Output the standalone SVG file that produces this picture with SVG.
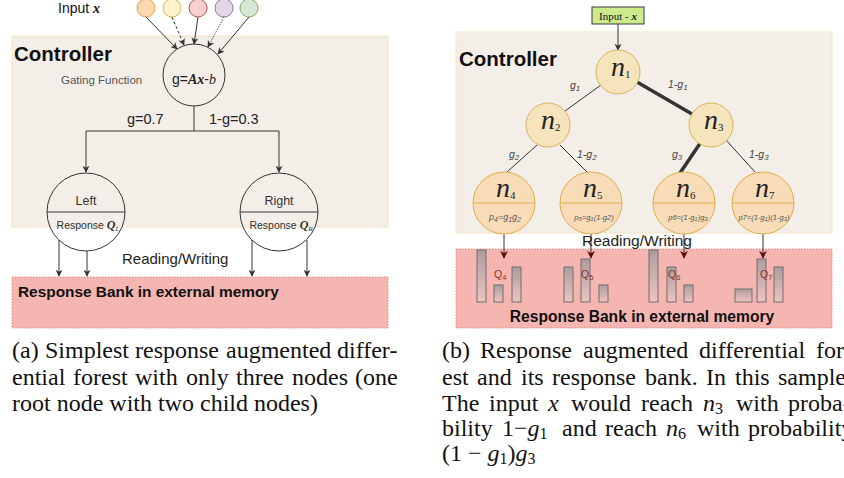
<svg xmlns="http://www.w3.org/2000/svg" width="844" height="478" viewBox="0 0 844 478">
<style>
.sans{font-family:"Liberation Sans",Arial,sans-serif}
.serif{font-family:"Liberation Serif","Times New Roman",serif}
.ln{stroke:#333;stroke-width:1;fill:none}
.ctrl{fill:#f4eee8;stroke:#f5e4c8;stroke-width:1}
.bank{fill:#f5b6b1;stroke:#e08a86;stroke-width:1;stroke-dasharray:1.5 1.5}
.tn{fill:#f6e4bd;stroke:#d9b35a;stroke-width:1}
.ln4{fill:#f8dcb8;stroke:#e0ae48;stroke-width:1}
.bar{fill:url(#bg);stroke:#6e6e6e;stroke-width:1}
.cap{font-family:"Liberation Serif","Times New Roman",serif;font-size:24px;fill:#111}
.mi{font-style:italic}
.q{font-family:"Liberation Sans",Arial,sans-serif;font-size:10.5px;fill:#8a3030}
.el{font-family:"Liberation Sans",Arial,sans-serif;font-size:10.5px;font-style:italic;fill:#444}
.pl{font-family:"Liberation Sans",Arial,sans-serif;font-style:italic;fill:#555}
</style>
<defs>
<marker id="ar" viewBox="0 0 10 10" refX="9" refY="5" markerWidth="7" markerHeight="7" orient="auto" markerUnits="userSpaceOnUse">
<path d="M0,0 L10,5 L0,10 L3,5 Z" fill="#333"/>
</marker>
<marker id="arr" viewBox="0 0 10 10" refX="9" refY="5" markerWidth="8" markerHeight="8" orient="auto" markerUnits="userSpaceOnUse">
<path d="M0,0 L10,5 L0,10 L3,5 Z" fill="#5e0b0b"/>
</marker>
<linearGradient id="bg" x1="0" y1="0" x2="0" y2="1">
<stop offset="0" stop-color="#ad9d9d"/>
<stop offset="1" stop-color="#eec3c3"/>
</linearGradient>
</defs>

<!-- ============ LEFT PANEL ============ -->
<g id="left-controller">
<rect class="ctrl" x="12" y="36" width="376" height="191"/>
<text class="sans" x="14" y="61" font-size="20.5" font-weight="bold" fill="#111">Controller</text>
</g>
<g id="left-bank">
<rect class="bank" x="12" y="277" width="376" height="51"/>
<text class="sans" x="18" y="297" font-size="15.4" font-weight="bold" fill="#111">Response Bank in external memory</text>
</g>
<g id="input-label">
<text class="sans" x="58" y="13" font-size="14" fill="#111">Input <tspan class="serif" font-style="italic" font-weight="bold">x</tspan></text>
</g>
<g id="inputs">
<circle cx="146" cy="8" r="9" fill="#fad7ac" stroke="#dfa24a"/>
<circle cx="172" cy="8" r="9" fill="#fff2cc" stroke="#d6b656"/>
<circle cx="198" cy="8" r="9" fill="#f8cecc" stroke="#b85450"/>
<circle cx="224" cy="8" r="9" fill="#e1d5e7" stroke="#9673a6"/>
<circle cx="249" cy="8" r="9" fill="#d5e8d4" stroke="#82b366"/>
</g>
<g id="gating">
<circle class="ln" cx="194" cy="75" r="31"/>
<text x="194" y="84" font-size="14" text-anchor="middle" class="sans" fill="#222">g=<tspan class="serif" font-style="italic" font-weight="bold">Ax</tspan>-<tspan class="serif" font-style="italic">b</tspan></text>
<text class="sans" x="61" y="84" font-size="11.5" fill="#555">Gating Function</text>
</g>
<g id="left-node">
<circle class="ln" cx="86" cy="212" r="39"/>
<line class="ln" x1="47" y1="212" x2="125" y2="212"/>
<text class="sans" x="86" y="205" font-size="12.5" text-anchor="middle" fill="#333">Left</text>
<text class="sans" x="88" y="229" font-size="10.5" text-anchor="middle" fill="#333">Response <tspan class="serif" font-style="italic" font-weight="bold" font-size="12">Q</tspan><tspan class="serif" font-style="italic" font-size="7" dy="2">L</tspan></text>
</g>
<g id="right-node">
<circle class="ln" cx="279" cy="212" r="39"/>
<line class="ln" x1="240" y1="212" x2="318" y2="212"/>
<text class="sans" x="279" y="205" font-size="12.5" text-anchor="middle" fill="#333">Right</text>
<text class="sans" x="281" y="229" font-size="10.5" text-anchor="middle" fill="#333">Response <tspan class="serif" font-style="italic" font-weight="bold" font-size="12">Q</tspan><tspan class="serif" font-style="italic" font-size="7" dy="2">R</tspan></text>
</g>
<g id="left-connectors">
<line class="ln" x1="146" y1="17" x2="177" y2="49" marker-end="url(#ar)"/>
<line class="ln" x1="172" y1="17" x2="184" y2="45" stroke-dasharray="3 2" marker-end="url(#ar)"/>
<line class="ln" x1="198" y1="17" x2="194" y2="44" marker-end="url(#ar)"/>
<line class="ln" x1="224" y1="17" x2="208" y2="47" stroke-dasharray="1.2 1.5" stroke="#777" marker-end="url(#ar)"/>
<line class="ln" x1="249" y1="17" x2="218" y2="54" marker-end="url(#ar)"/>
<polyline class="ln" points="194,106 194,131"/>
<polyline class="ln" points="86,131 279,131"/>
<line class="ln" x1="86" y1="131" x2="86" y2="172" marker-end="url(#ar)"/>
<line class="ln" x1="279" y1="131" x2="279" y2="172" marker-end="url(#ar)"/>
<line class="ln" x1="59" y1="240" x2="59" y2="276" marker-end="url(#ar)"/>
<line class="ln" x1="87" y1="251" x2="87" y2="276" marker-end="url(#ar)"/>
<line class="ln" x1="252" y1="240" x2="252" y2="276" marker-end="url(#ar)"/>
<line class="ln" x1="307" y1="240" x2="307" y2="276" marker-end="url(#ar)"/>
<text class="sans" x="127" y="124" font-size="14.5" fill="#222">g=0.7</text>
<text class="sans" x="209" y="124" font-size="14.5" fill="#222">1-g=0.3</text>
<text class="sans" x="122" y="264" font-size="15" fill="#222">Reading/Writing</text>
</g>

<!-- ============ RIGHT PANEL ============ -->
<g id="right-controller">
<rect class="ctrl" x="456" y="32" width="376" height="201"/>
<text class="sans" x="459" y="66" font-size="20.5" font-weight="bold" fill="#111">Controller</text>
</g>
<g id="right-bank">
<rect class="bank" x="456" y="249" width="376" height="79"/>
<rect class="bar" x="477" y="250" width="9" height="52"/>
<rect class="bar" x="494" y="285" width="9" height="17"/>
<rect class="bar" x="512" y="267" width="9" height="35"/>
<rect class="bar" x="564" y="267" width="9" height="35"/>
<rect class="bar" x="581" y="259" width="9" height="43"/>
<rect class="bar" x="599" y="285" width="9" height="17"/>
<rect class="bar" x="649" y="250" width="9" height="52"/>
<rect class="bar" x="667" y="267" width="9" height="35"/>
<rect class="bar" x="684" y="285" width="9" height="17"/>
<rect class="bar" x="735" y="289" width="17" height="13"/>
<rect class="bar" x="757" y="259" width="9" height="43"/>
<rect class="bar" x="774" y="267" width="9" height="35"/>
<text class="q" x="494" y="278">Q<tspan font-size="7.5" dy="2">4</tspan></text>
<text class="q" x="581" y="278">Q<tspan font-size="7.5" dy="2">5</tspan></text>
<text class="q" x="668" y="278">Q<tspan font-size="7.5" dy="2">6</tspan></text>
<text class="q" x="760" y="278">Q<tspan font-size="7.5" dy="2">7</tspan></text>
<text class="sans" x="642" y="322" font-size="15.6" font-weight="bold" fill="#111" text-anchor="middle">Response Bank in external memory</text>
</g>
<g id="input-box">
<rect x="592" y="7" width="52" height="17" fill="#cdeb8b" stroke="#36393d" stroke-width="1"/>
<text class="serif" x="618" y="20" font-size="11" text-anchor="middle" fill="#111">Input - <tspan font-style="italic" font-weight="bold">x</tspan></text>
</g>
<g id="right-connectors">
<line class="ln" x1="618" y1="24" x2="618" y2="50" marker-end="url(#ar)"/>
<line class="ln" x1="601" y1="85" x2="565" y2="111"/>
<line x1="637" y1="82" x2="692" y2="114" stroke="#333" stroke-width="3.5"/>
<line class="ln" x1="537" y1="145" x2="507" y2="172"/>
<line class="ln" x1="560" y1="145" x2="588" y2="173"/>
<line x1="701" y1="142" x2="680" y2="173" stroke="#333" stroke-width="3.5"/>
<line class="ln" x1="726" y1="140" x2="755" y2="172"/>
<line class="ln" x1="504" y1="234" x2="504" y2="258" marker-end="url(#arr)"/>
<line class="ln" x1="591" y1="234" x2="591" y2="258" marker-end="url(#arr)"/>
<line class="ln" x1="684" y1="234" x2="684" y2="258" marker-end="url(#arr)"/>
<line class="ln" x1="763" y1="234" x2="763" y2="258" marker-end="url(#arr)"/>
<text class="el" x="570" y="89">g<tspan font-size="8" dy="2">1</tspan></text>
<text class="el" x="668" y="88">1-g<tspan font-size="8" dy="2">1</tspan></text>
<text class="el" x="509" y="158">g<tspan font-size="8" dy="2">2</tspan></text>
<text class="el" x="577" y="158">1-g<tspan font-size="8" dy="2">2</tspan></text>
<text class="el" x="672" y="158">g<tspan font-size="8" dy="2">3</tspan></text>
<text class="el" x="749" y="158">1-g<tspan font-size="8" dy="2">3</tspan></text>
<text class="sans" x="582" y="246" font-size="15.5" fill="#222">Reading/Writing</text>
</g>
<g id="n1">
<circle class="tn" cx="618" cy="72" r="22"/>
<text class="serif" x="611" y="76" font-size="28" font-style="italic" fill="#222">n<tspan font-size="11" font-style="normal" dy="2">1</tspan></text>
</g>
<g id="n2">
<circle class="tn" cx="548" cy="125" r="22"/>
<text class="serif" x="541" y="129" font-size="28" font-style="italic" fill="#222">n<tspan font-size="11" font-style="normal" dy="2">2</tspan></text>
</g>
<g id="n3">
<circle class="tn" cx="711" cy="125" r="22"/>
<text class="serif" x="704" y="129" font-size="28" font-style="italic" fill="#222">n<tspan font-size="11" font-style="normal" dy="2">3</tspan></text>
</g>
<g id="n4">
<circle class="ln4" cx="504" cy="203" r="31"/>
<line x1="473" y1="203" x2="535" y2="203" stroke="#e0ae48"/>
<text class="serif" x="496" y="197" font-size="28" font-style="italic" fill="#222">n<tspan font-size="11" font-style="normal" dy="2">4</tspan></text>
<text class="pl" x="505" y="220" font-size="9" text-anchor="middle">p<tspan font-size="7" dy="1.5">4</tspan><tspan dy="-1.5">=g</tspan><tspan font-size="7" dy="1.5">1</tspan><tspan dy="-1.5">g</tspan><tspan font-size="7" dy="1.5">2</tspan></text>
</g>
<g id="n5">
<circle class="ln4" cx="591" cy="203" r="31"/>
<line x1="560" y1="203" x2="622" y2="203" stroke="#e0ae48"/>
<text class="serif" x="583" y="197" font-size="28" font-style="italic" fill="#222">n<tspan font-size="11" font-style="normal" dy="2">5</tspan></text>
<text class="pl" x="594" y="220" font-size="7.5" text-anchor="middle">p<tspan font-size="6" dy="1">5</tspan><tspan dy="-1">=g</tspan><tspan font-size="6" dy="1">1</tspan><tspan dy="-1">(1-g2)</tspan></text>
</g>
<g id="n6">
<circle class="ln4" cx="684" cy="203" r="31"/>
<line x1="653" y1="203" x2="715" y2="203" stroke="#e0ae48"/>
<text class="serif" x="676" y="197" font-size="28" font-style="italic" fill="#222">n<tspan font-size="11" font-style="normal" dy="2">6</tspan></text>
<text class="pl" x="688" y="220" font-size="7.5" text-anchor="middle">p6=(1-g<tspan font-size="6" dy="1">1</tspan><tspan dy="-1">)g</tspan><tspan font-size="6" dy="1">3</tspan></text>
</g>
<g id="n7">
<circle class="ln4" cx="763" cy="203" r="31"/>
<line x1="732" y1="203" x2="794" y2="203" stroke="#e0ae48"/>
<text class="serif" x="755" y="197" font-size="28" font-style="italic" fill="#222">n<tspan font-size="11" font-style="normal" dy="2">7</tspan></text>
<text class="pl" x="764" y="220" font-size="7.5" text-anchor="middle">p7=(1-g<tspan font-size="6" dy="1">1</tspan><tspan dy="-1">)(1-g</tspan><tspan font-size="6" dy="1">3</tspan><tspan dy="-1">)</tspan></text>
</g>

<!-- ============ CAPTIONS ============ -->
<g id="caption-a">
<text class="cap" y="358"><tspan x="12">(a)</tspan><tspan x="45">Simplest</tspan><tspan x="135">response</tspan><tspan x="226">augmented</tspan><tspan x="337">differ-</tspan></text>
<text class="cap" y="385"><tspan x="12">ential</tspan><tspan x="73">forest</tspan><tspan x="135">with</tspan><tspan x="186">only</tspan><tspan x="236">three</tspan><tspan x="292">nodes</tspan><tspan x="355">(one</tspan></text>
<text class="cap" x="12" y="411">root node with two child nodes)</text>
</g>
<g id="caption-b">
<text class="cap" y="358"><tspan x="442">(b)</tspan><tspan x="480">Response</tspan><tspan x="583">augmented</tspan><tspan x="699">differential</tspan><tspan x="816">for</tspan></text>
<text class="cap" y="385"><tspan x="442">est</tspan><tspan x="477">and</tspan><tspan x="521">its</tspan><tspan x="552">response</tspan><tspan x="645">bank.</tspan><tspan x="706">In</tspan><tspan x="735">this</tspan><tspan x="778">sample</tspan></text>
<text class="cap" y="411"><tspan x="442">The</tspan><tspan x="489">input</tspan><tspan x="548" class="mi">x</tspan><tspan x="571">would</tspan><tspan x="641">reach</tspan><tspan x="703" class="mi">n</tspan><tspan font-size="16" dy="3">3</tspan><tspan x="736" dy="-3">with</tspan><tspan x="788">proba-</tspan></text>
<text class="cap" y="436"><tspan x="442">bility</tspan><tspan x="502">1−</tspan><tspan class="mi">g</tspan><tspan font-size="16" dy="3">1</tspan><tspan x="562" dy="-3">and</tspan><tspan x="605">reach</tspan><tspan x="666" class="mi">n</tspan><tspan font-size="16" dy="3">6</tspan><tspan x="697" dy="-3">with</tspan><tspan x="748">probability</tspan></text>
<text class="cap" y="461"><tspan x="442">(1 − </tspan><tspan class="mi">g</tspan><tspan font-size="16" dy="3">1</tspan><tspan dy="-3">)</tspan><tspan class="mi">g</tspan><tspan font-size="16" dy="3">3</tspan></text>
</g>
</svg>
